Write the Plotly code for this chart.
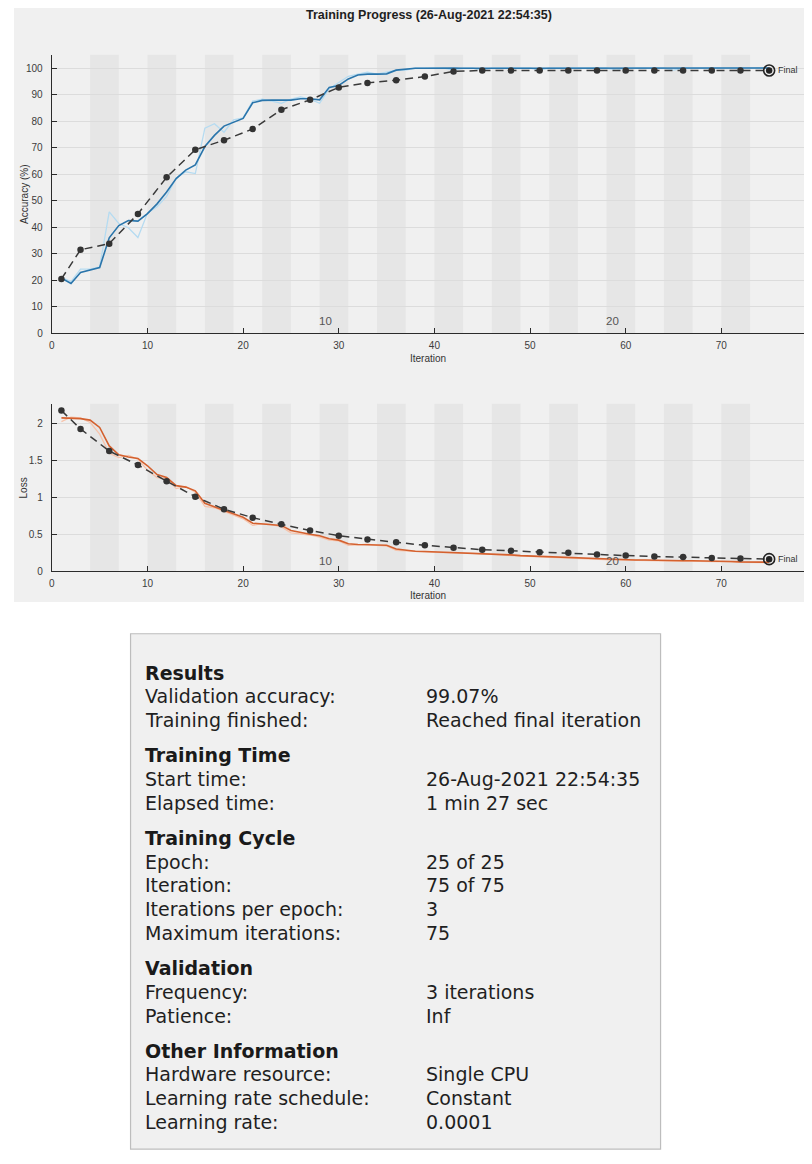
import plotly.graph_objects as go

# ---------------- data ----------------
iterations = list(range(1, 76))
iters_per_epoch = 3
n_epochs = 25

train_acc_raw = [21.1, 19.5, 24.2, 24.2, 25.0, 45.8, 41.4, 39.8, 36.1, 45.3,
                 47.7, 51.6, 58.6, 60.9, 60.2, 77.3, 79.0, 75.8, 80.5, 81.2,
                 87.5, 88.3, 87.5, 86.7, 88.3, 89.1, 88.3, 86.7, 92.2, 94.5,
                 96.9, 97.7, 98.4, 97.7, 98.4, 99.2, 99.2, 100, 100, 100,
                 100, 99.2, 100, 100, 99.2, 100, 100, 100, 100, 100,
                 99.2, 100, 100, 100, 100, 100, 100, 100, 99.2, 100,
                 100, 100, 100, 100, 99.2, 100, 100, 100, 100, 100,
                 100, 100, 100, 100, 100]
train_acc_smooth = [20.8, 18.8, 22.9, 23.9, 24.8, 36.0, 40.6, 42.5, 42.3, 45.1,
                    48.8, 53.3, 58.3, 61.5, 63.5, 70.4, 74.6, 78.1, 79.4, 81.0,
                    86.9, 87.8, 87.9, 87.9, 87.9, 88.4, 88.4, 88.0, 92.7, 93.4,
                    95.9, 97.4, 97.7, 97.7, 97.8, 99.2, 99.6, 99.9, 99.9, 100,
                    100, 100, 99.9, 99.9, 99.9, 100, 100, 100, 100, 99.9,
                    99.9, 99.9, 100, 100, 100, 100, 100, 99.9, 99.9, 100,
                    100, 100, 100, 99.9, 99.9, 99.9, 100, 100, 100, 100,
                    100, 100, 100, 100, 100]

val_iterations = [1, 3, 6, 9, 12, 15, 18, 21, 24, 27, 30, 33, 36, 39, 42, 45, 48,
                  51, 54, 57, 60, 63, 66, 69, 72, 75]
val_acc = [20.5, 31.5, 33.8, 45.0, 58.8, 69.2, 72.8, 77.0, 84.3, 88.0, 92.7, 94.4,
           95.4, 96.8, 98.7, 99.1, 99.1, 99.1, 99.1, 99.1, 99.1, 99.1, 99.1, 99.1,
           99.1, 99.07]

train_loss_raw = [2.03, 2.09, 2.08, 2.02, 1.86, 1.60, 1.54, 1.57, 1.52, 1.37,
                  1.27, 1.26, 1.12, 1.15, 1.07, 0.88, 0.86, 0.81, 0.76, 0.71,
                  0.62, 0.645, 0.63, 0.60, 0.52, 0.51, 0.49, 0.46, 0.42, 0.41,
                  0.35, 0.355, 0.365, 0.35, 0.34, 0.28, 0.27, 0.265, 0.26, 0.255,
                  0.255, 0.25, 0.245, 0.24, 0.235, 0.23, 0.22, 0.21, 0.205, 0.2,
                  0.195, 0.185, 0.175, 0.17, 0.165, 0.16, 0.155, 0.155, 0.15, 0.15,
                  0.145, 0.145, 0.14, 0.14, 0.135, 0.135, 0.135, 0.13, 0.13, 0.125,
                  0.125, 0.12, 0.12, 0.115, 0.115]
train_loss_smooth = [2.08, 2.08, 2.07, 2.05, 1.95, 1.70, 1.58, 1.55, 1.53, 1.43,
                     1.31, 1.27, 1.16, 1.14, 1.09, 0.92, 0.87, 0.83, 0.78, 0.73,
                     0.65, 0.64, 0.64, 0.62, 0.55, 0.52, 0.50, 0.48, 0.44, 0.42,
                     0.37, 0.36, 0.36, 0.36, 0.35, 0.30, 0.28, 0.27, 0.265, 0.26,
                     0.26, 0.255, 0.25, 0.245, 0.24, 0.235, 0.23, 0.22, 0.21, 0.205,
                     0.20, 0.19, 0.18, 0.175, 0.17, 0.165, 0.16, 0.16, 0.155, 0.155,
                     0.15, 0.15, 0.145, 0.145, 0.14, 0.14, 0.14, 0.135, 0.135, 0.13,
                     0.13, 0.125, 0.125, 0.12, 0.12]
val_loss = [2.18, 1.93, 1.63, 1.44, 1.22, 1.01, 0.84, 0.725, 0.635, 0.55, 0.48, 0.43,
            0.39, 0.35, 0.315, 0.29, 0.275, 0.257, 0.248, 0.225, 0.21, 0.198, 0.19,
            0.176, 0.171, 0.162]

acc_ticks = [0, 10, 20, 30, 40, 50, 60, 70, 80, 90, 100]
loss_ticks = [0, 0.5, 1, 1.5, 2]
loss_ticktext = ["0", "0.5", "1", "1.5", "2"]
iter_ticks = [0, 10, 20, 30, 40, 50, 60, 70]
epoch_labels = [10, 20]

title_text = "Training Progress (26-Aug-2021 22:54:35)"

panel_rows = [
    ("h", "Results", ""),
    ("r", "Validation accuracy:", "99.07%"),
    ("r", "Training finished:", "Reached final iteration"),
    ("h", "Training Time", ""),
    ("r", "Start time:", "26-Aug-2021 22:54:35"),
    ("r", "Elapsed time:", "1 min 27 sec"),
    ("h", "Training Cycle", ""),
    ("r", "Epoch:", "25 of 25"),
    ("r", "Iteration:", "75 of 75"),
    ("r", "Iterations per epoch:", "3"),
    ("r", "Maximum iterations:", "75"),
    ("h", "Validation", ""),
    ("r", "Frequency:", "3 iterations"),
    ("r", "Patience:", "Inf"),
    ("h", "Other Information", ""),
    ("r", "Hardware resource:", "Single CPU"),
    ("r", "Learning rate schedule:", "Constant"),
    ("r", "Learning rate:", "0.0001"),
]

# ---------------- layout helpers ----------------
# the page body has an 8px margin; the figure is sized/shifted to compensate
OFF = 8
W, H = 812 - OFF, 1164 - OFF
def px(x):
    return (x - OFF) / W
def py(y):
    return 1 - (y - OFF) / H

AX_COL = "#2b2b2b"
SANS = "Liberation Sans, Arial, sans-serif"
TICK_FONT = dict(family=SANS, size=10, color="#3c3c3c")
x_max = 75 * 1.05

fig = go.Figure()

def final_marker(xa, ya, yv):
    fig.add_trace(go.Scatter(x=[val_iterations[-1]], y=[yv], mode="markers",
                             marker=dict(symbol="circle-open", color="#222222", size=11,
                                         line=dict(width=1.6)),
                             xaxis=xa, yaxis=ya, showlegend=False, cliponaxis=False))
    fig.add_trace(go.Scatter(x=[val_iterations[-1]], y=[yv], mode="markers",
                             marker=dict(color="#222222", size=5.5), xaxis=xa, yaxis=ya,
                             showlegend=False, cliponaxis=False))

# accuracy traces
fig.add_trace(go.Scatter(x=iterations, y=train_acc_raw, mode="lines",
                         line=dict(color="#b5dbf1", width=1.3), xaxis="x", yaxis="y",
                         showlegend=False, hoverinfo="skip"))
fig.add_trace(go.Scatter(x=iterations, y=train_acc_smooth, mode="lines",
                         line=dict(color="#2a75ab", width=1.6), xaxis="x", yaxis="y",
                         showlegend=False))
fig.add_trace(go.Scatter(x=val_iterations, y=val_acc, mode="lines+markers",
                         line=dict(color="#3a3a3a", width=1.5, dash="8px,5px"),
                         marker=dict(color="#333333", size=6.5), xaxis="x", yaxis="y",
                         showlegend=False))
final_marker("x", "y", val_acc[-1])

# loss traces
fig.add_trace(go.Scatter(x=iterations, y=train_loss_raw, mode="lines",
                         line=dict(color="#f6c3ab", width=1.3), xaxis="x2", yaxis="y2",
                         showlegend=False, hoverinfo="skip"))
fig.add_trace(go.Scatter(x=iterations, y=train_loss_smooth, mode="lines",
                         line=dict(color="#d4612f", width=1.6), xaxis="x2", yaxis="y2",
                         showlegend=False))
fig.add_trace(go.Scatter(x=val_iterations, y=val_loss, mode="lines+markers",
                         line=dict(color="#3a3a3a", width=1.5, dash="8px,5px"),
                         marker=dict(color="#333333", size=6.5), xaxis="x2", yaxis="y2",
                         showlegend=False))
final_marker("x2", "y2", val_loss[-1])

shapes = []
# gray figure background (MATLAB window)
shapes.append(dict(type="rect", xref="paper", yref="paper", x0=px(11), x1=1,
                   y0=py(605), y1=1, fillcolor="#f0f0f0", line=dict(width=0),
                   layer="below"))
# epoch bands
for ax_x, ax_y in (("x", "y"), ("x2", "y2")):
    for ep in range(2, n_epochs + 1, 2):
        x0 = (ep - 1) * iters_per_epoch + 1
        x1 = ep * iters_per_epoch + 1
        shapes.append(dict(type="rect", xref=ax_x, yref=ax_y + " domain", x0=x0, x1=x1,
                           y0=0, y1=1, fillcolor="#e6e6e6", line=dict(width=0),
                           layer="below"))
# info panel box
shapes.append(dict(type="rect", xref="paper", yref="paper", x0=px(128), x1=px(660),
                   y0=py(1155), y1=py(637), fillcolor="#f0f0f0",
                   line=dict(color="#bdbdbd", width=1.2), layer="below"))

annotations = []
annotations.append(dict(text="<b>" + title_text + "</b>", xref="paper", yref="paper",
                        x=px(428), y=py(15), showarrow=False, xanchor="center",
                        yanchor="middle",
                        font=dict(family=SANS, size=12.5, color="#1e1e1e")))
annotations.append(dict(text="Accuracy (%)", xref="paper", yref="paper", x=px(21),
                        y=py(195), textangle=-90, showarrow=False, xanchor="center",
                        yanchor="middle", font=dict(family=SANS, size=10, color="#333333")))
annotations.append(dict(text="Loss", xref="paper", yref="paper", x=px(21),
                        y=py(490), textangle=-90, showarrow=False, xanchor="center",
                        yanchor="middle", font=dict(family=SANS, size=10, color="#333333")))
annotations.append(dict(text="Iteration", xref="paper", yref="paper", x=px(427),
                        y=py(360), showarrow=False, xanchor="center", yanchor="middle",
                        font=dict(family=SANS, size=10, color="#333333")))
annotations.append(dict(text="Iteration", xref="paper", yref="paper", x=px(427),
                        y=py(599), showarrow=False, xanchor="center", yanchor="middle",
                        font=dict(family=SANS, size=10, color="#333333")))
for xa, ya, yv in (("x", "y", val_acc[-1]), ("x2", "y2", val_loss[-1])):
    annotations.append(dict(text="Final", x=75.75, xref=xa, y=yv, yref=ya,
                            xanchor="left", yanchor="middle", showarrow=False,
                            font=dict(family=SANS, size=9, color="#333333")))
for ep in epoch_labels:
    xe = (ep - 1) * iters_per_epoch + 1 + 0.6
    annotations.append(dict(text=str(ep), x=xe, xref="x", y=0, yref="y domain",
                            yshift=12, showarrow=False, yanchor="middle",
                            font=dict(family=SANS, size=11.5, color="#555555")))
    annotations.append(dict(text=str(ep), x=xe, xref="x2", y=0, yref="y2 domain",
                            yshift=10, showarrow=False, yanchor="middle",
                            font=dict(family=SANS, size=11.5, color="#555555")))

# panel text
PANEL_FONT = "DejaVu Sans, Verdana, sans-serif"
PANEL_SIZE = 19
y = 676
first = True
for kind, label, value in panel_rows:
    if not first:
        y += 35 if kind == "h" else 24
    first = False
    if kind == "h":
        annotations.append(dict(text="<b>" + label + "</b>", xref="paper", yref="paper",
                                x=px(140), y=py(y), xanchor="left", yanchor="middle",
                                showarrow=False,
                                font=dict(family=PANEL_FONT, size=PANEL_SIZE, color="#1a1a1a")))
    else:
        annotations.append(dict(text=label, xref="paper", yref="paper",
                                x=px(140), y=py(y), xanchor="left", yanchor="middle",
                                showarrow=False,
                                font=dict(family=PANEL_FONT, size=PANEL_SIZE, color="#1f1f1f")))
        annotations.append(dict(text=value, xref="paper", yref="paper",
                                x=px(423), y=py(y), xanchor="left", yanchor="middle",
                                showarrow=False,
                                font=dict(family=PANEL_FONT, size=PANEL_SIZE, color="#1f1f1f")))

xdom = [px(49), px(805)]
common_x = dict(range=[0, x_max], tickvals=iter_ticks, ticks="inside", ticklen=5,
                tickcolor=AX_COL, showline=True, linecolor=AX_COL, linewidth=1.3,
                showgrid=False, zeroline=False, tickfont=TICK_FONT, domain=xdom,
                ticklabelstandoff=3)
common_y = dict(ticks="inside", ticklen=5, tickcolor=AX_COL, showline=True,
                linecolor=AX_COL, linewidth=1.3, showgrid=True, gridcolor="#dcdcdc",
                gridwidth=1, zeroline=False, tickfont=TICK_FONT, ticklabelstandoff=6)

fig.update_layout(
    width=W, height=H,
    margin=dict(l=0, r=0, t=0, b=0),
    paper_bgcolor="white", plot_bgcolor="white",
    xaxis=dict(anchor="y", **common_x),
    yaxis=dict(anchor="x", range=[0, 105], tickvals=acc_ticks,
               domain=[py(335), py(55)], **common_y),
    xaxis2=dict(anchor="y2", **common_x),
    yaxis2=dict(anchor="x2", range=[0, 2.274], tickvals=loss_ticks,
                ticktext=loss_ticktext,
                domain=[py(574), py(405.7)], **common_y),
    shapes=shapes, annotations=annotations, showlegend=False,
)

fig.write_html("out.html")
